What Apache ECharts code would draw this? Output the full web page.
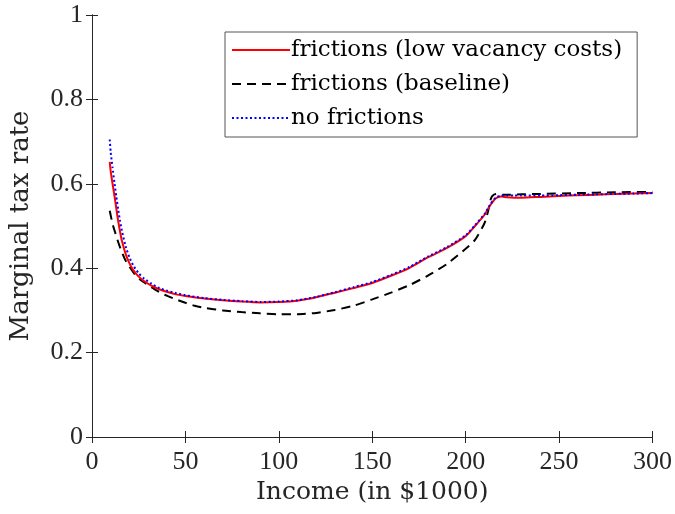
<!DOCTYPE html>
<html>
<head>
<meta charset="utf-8">
<script src="https://cdn.jsdelivr.net/npm/echarts@6/dist/echarts.min.js"></script>
<style>
  html, body { margin: 0; padding: 0; background: #fff; }
  #chart { width: 675px; height: 514px; }
</style>
</head>
<body>
<div id="chart"></div>
<script>
// Marginal tax rate by income (in $1000) under three labour-market settings.
const incomeLow = [9.5, 10, 11, 12, 13, 14, 15, 16, 18, 20, 22, 25, 28, 32, 36, 40, 45, 50, 60, 70, 80, 90, 100, 110, 120, 130, 140, 150, 160, 170, 180, 190, 200, 205, 210, 213, 216, 219, 222, 226, 230, 240, 250, 260, 270, 280, 290, 300];
const taxLow = [0.652, 0.630, 0.600, 0.572, 0.542, 0.512, 0.487, 0.465, 0.434, 0.412, 0.396, 0.380, 0.369, 0.358, 0.350, 0.344, 0.338, 0.334, 0.328, 0.324, 0.321, 0.319, 0.320, 0.323, 0.331, 0.342, 0.353, 0.365, 0.382, 0.401, 0.426, 0.448, 0.476, 0.500, 0.526, 0.548, 0.565, 0.570, 0.568, 0.567, 0.567, 0.569, 0.571, 0.573, 0.574, 0.576, 0.577, 0.578];

const incomeBase = [9.5, 11, 12.5, 14, 16, 18, 20, 23, 26, 30, 35, 40, 45, 50, 55, 60, 70, 80, 90, 100, 110, 120, 130, 140, 150, 160, 170, 180, 190, 200, 205, 210, 212, 213.5, 215, 217, 220, 230, 240, 260, 280, 300];
const taxBase = [0.536, 0.505, 0.483, 0.462, 0.438, 0.418, 0.404, 0.385, 0.372, 0.360, 0.346, 0.335, 0.326, 0.318, 0.311, 0.306, 0.300, 0.296, 0.293, 0.291, 0.291, 0.294, 0.301, 0.311, 0.326, 0.342, 0.360, 0.383, 0.410, 0.446, 0.467, 0.506, 0.535, 0.565, 0.574, 0.576, 0.574, 0.575, 0.576, 0.578, 0.580, 0.581];

const incomeNone = [9.5, 10, 11, 12, 13, 14, 15, 16, 18, 20, 22, 25, 28, 32, 36, 40, 45, 50, 60, 70, 80, 90, 100, 110, 120, 130, 140, 150, 160, 170, 180, 190, 200, 205, 210, 213, 216, 219, 222, 226, 230, 240, 250, 260, 270, 280, 290, 300];
const taxNone = [0.705, 0.675, 0.638, 0.603, 0.570, 0.539, 0.512, 0.489, 0.452, 0.426, 0.407, 0.388, 0.375, 0.363, 0.353, 0.347, 0.341, 0.336, 0.329, 0.325, 0.322, 0.320, 0.321, 0.324, 0.332, 0.343, 0.355, 0.367, 0.384, 0.403, 0.428, 0.450, 0.478, 0.502, 0.528, 0.550, 0.567, 0.572, 0.572, 0.572, 0.572, 0.572, 0.573, 0.574, 0.575, 0.576, 0.577, 0.578];

const seriesNames = ['frictions (low vacancy costs)', 'frictions (baseline)', 'no frictions'];
const xTicks = [0, 50, 100, 150, 200, 250, 300];
const yTicks = [0, 0.2, 0.4, 0.6, 0.8, 1];

const zip = (xs, ys) => xs.map((x, i) => [x, ys[i]]);

const TICK_FONT = '"Liberation Serif", "DejaVu Serif", serif';
const TEXT_FONT = '"DejaVu Serif", "Liberation Serif", serif';
const AXIS = '#262626';

const chart = echarts.init(document.getElementById('chart'), null, { renderer: 'canvas' });

const baseAxis = {
  min: 0,
  axisLine: { show: true, lineStyle: { color: AXIS, width: 1 } },
  axisTick: { show: true, inside: true, length: 6, lineStyle: { color: AXIS } },
  splitLine: { show: false },
};

chart.setOption({
  animation: false,
  backgroundColor: '#fff',
  grid: { left: 92, right: 22, top: 15, bottom: 77 },
  legend: {
    data: seriesNames,
    orient: 'vertical',
    left: 225,
    top: 32,
    padding: [6, 15, 7, 6],
    itemGap: 10,
    itemWidth: 58,
    itemHeight: 14,
    borderColor: '#555',
    borderWidth: 1,
    backgroundColor: '#fff',
    itemStyle: { color: 'rgba(0,0,0,0)', borderWidth: 0 },
    textStyle: { fontFamily: TEXT_FONT, fontSize: 23, lineHeight: 24, color: '#000', padding: [0, 0, 0, -4] },
  },
  xAxis: [
    Object.assign({}, baseAxis, {
      type: 'value', max: 300, interval: 50, position: 'bottom',
      name: 'Income (in $1000)', nameLocation: 'middle', nameGap: 42,
      nameTextStyle: { fontFamily: TEXT_FONT, fontSize: 25, color: AXIS, verticalAlign: 'top' },
      axisLabel: {
        fontFamily: TICK_FONT, fontSize: 26, color: AXIS, margin: 12,
        formatter: v => (xTicks.includes(v) ? String(v) : ''),
      },
    }),
    Object.assign({}, baseAxis, {
      type: 'value', max: 300, interval: 50, position: 'top',
      axisLabel: { show: false },
    }),
  ],
  yAxis: [
    Object.assign({}, baseAxis, {
      type: 'value', max: 1, interval: 0.2, position: 'left',
      name: 'Marginal tax rate', nameLocation: 'middle', nameGap: 58,
      nameTextStyle: { fontFamily: TEXT_FONT, fontSize: 26, color: AXIS },
      axisLabel: {
        fontFamily: TICK_FONT, fontSize: 26, color: AXIS, margin: 9,
        formatter: v => {
          const t = yTicks.find(k => Math.abs(k - v) < 1e-9);
          if (t === undefined) return '';
          return (t === 0 || t === 1) ? String(t) : t.toFixed(1);
        },
      },
    }),
    Object.assign({}, baseAxis, {
      type: 'value', max: 1, interval: 0.2, position: 'right',
      axisLabel: { show: false },
    }),
  ],
  series: [
    {
      name: seriesNames[1], type: 'line', data: zip(incomeBase, taxBase),
      showSymbol: false, symbol: 'none', smooth: 0.2, z: 2,
      lineStyle: { color: '#000', width: 2, type: [9, 6] },
      itemStyle: { color: '#000' },
    },
    {
      name: seriesNames[0], type: 'line', data: zip(incomeLow, taxLow),
      showSymbol: false, symbol: 'none', smooth: 0.2, z: 3,
      lineStyle: { color: '#ff0000', width: 2, type: 'solid' },
      itemStyle: { color: '#ff0000' },
    },
    {
      name: seriesNames[2], type: 'line', data: zip(incomeNone, taxNone),
      showSymbol: false, symbol: 'none', smooth: 0.2, z: 4,
      lineStyle: { color: '#0000ff', width: 2, type: [2, 2.5] },
      itemStyle: { color: '#0000ff' },
    },
  ],
});
</script>
</body>
</html>
